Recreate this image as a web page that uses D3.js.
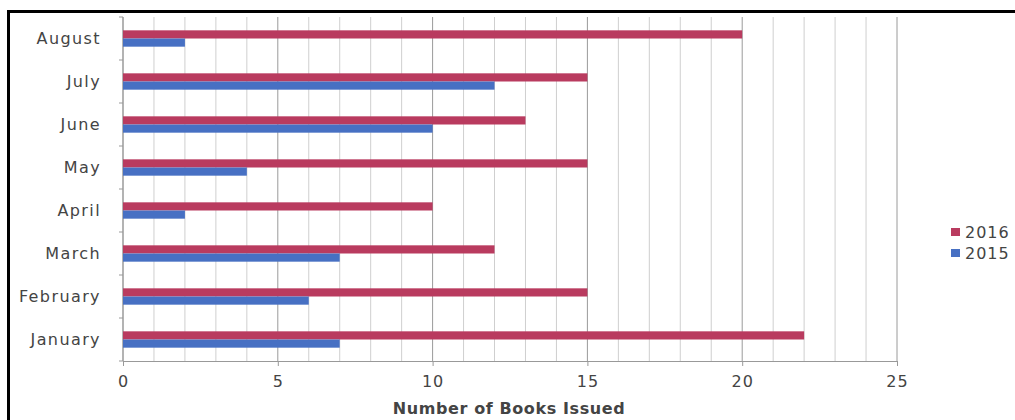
<!DOCTYPE html>
<html>
<head>
<meta charset="utf-8">
<script src="https://cdn.jsdelivr.net/npm/d3@7"></script>
<style>
  html, body { margin: 0; padding: 0; background: #fff; }
  svg { display: block; }
  text { font-family: "DejaVu Sans", sans-serif; fill: #444; }
</style>
</head>
<body>
<svg id="chart" width="1015" height="420"></svg>
<script>
// Books issued per month, two years
const months = ["January", "February", "March", "April", "May", "June", "July", "August"];
const series = ["2016", "2015"];
const issued2016 = [22, 15, 12, 10, 15, 13, 15, 20];
const issued2015 = [7, 6, 7, 2, 4, 10, 12, 2];
const xTicks = [0, 5, 10, 15, 20, 25];
const axisTitle = "Number of Books Issued";

const colors = { "2016": "#b93b5f", "2015": "#4770c3" };

const svg = d3.select("#chart");

// outer frame
svg.append("rect")
  .attr("x", 8.5).attr("y", 11.5)
  .attr("width", 1100).attr("height", 500)
  .attr("fill", "none").attr("stroke", "#000").attr("stroke-width", 3);

const plot = { left: 123, right: 897, top: 17, bottom: 361 };

const x = d3.scaleLinear().domain([0, 25]).range([plot.left, plot.right]);
const y = d3.scaleBand()
  .domain(months.slice().reverse())
  .range([plot.top, plot.bottom])
  .paddingInner(0.62).paddingOuter(0.31);
const ySub = d3.scaleBand().domain(series).range([0, y.bandwidth()]);

// vertical gridlines at every unit, darker on the labelled ones
const gridVals = d3.range(0, 26);
svg.append("g").selectAll("line")
  .data(gridVals).join("line")
  .attr("x1", d => x(d)).attr("x2", d => x(d))
  .attr("y1", plot.top).attr("y2", plot.bottom)
  .attr("stroke", d => d % 5 === 0 ? "#9a9a9a" : "#cfcfcf")
  .attr("stroke-width", 1);

// category axis line with separators
svg.append("line")
  .attr("x1", plot.left).attr("x2", plot.left)
  .attr("y1", plot.top).attr("y2", plot.bottom)
  .attr("stroke", "#999");
const sepY = d3.range(0, months.length + 1).map(i => plot.top + i * y.step());
svg.append("g").selectAll("line")
  .data(sepY).join("line")
  .attr("x1", plot.left - 4).attr("x2", plot.left)
  .attr("y1", d => d).attr("y2", d => d)
  .attr("stroke", "#999");

// bars
const rows = months.map((m, i) => ({ month: m, values: [
  { key: "2016", value: issued2016[i] },
  { key: "2015", value: issued2015[i] }
]}));

const groups = svg.append("g").selectAll("g")
  .data(rows).join("g")
  .attr("transform", d => `translate(0,${y(d.month)})`);

groups.selectAll("rect")
  .data(d => d.values).join("rect")
  .attr("x", x(0))
  .attr("y", d => ySub(d.key))
  .attr("width", d => x(d.value) - x(0))
  .attr("height", ySub.bandwidth())
  .attr("fill", d => colors[d.key]);

// bottom value axis
const xAxis = d3.axisBottom(x).tickValues(xTicks).tickSize(5).tickPadding(10).tickFormat(d3.format("d"));
const gx = svg.append("g")
  .attr("transform", `translate(0,${plot.bottom})`)
  .call(xAxis);
gx.select(".domain").attr("stroke", "#999");
gx.selectAll(".tick line").attr("stroke", "#999");
gx.selectAll(".tick text")
  .attr("font-size", 16).attr("fill", "#555")
  .attr("letter-spacing", 1)
  .style("font-family", "DejaVu Sans, sans-serif");

// month labels
svg.append("g").selectAll("text")
  .data(months).join("text")
  .attr("x", 101)
  .attr("y", d => y(d) + y.bandwidth() / 2)
  .attr("dy", "0.35em")
  .attr("text-anchor", "end")
  .attr("font-size", 16)
  .attr("letter-spacing", 1.4)
  .text(d => d);

// axis title
svg.append("text")
  .attr("x", 509).attr("y", 408)
  .attr("dy", "0.35em")
  .attr("text-anchor", "middle")
  .attr("font-size", 16)
  .attr("font-weight", "bold")
  .attr("letter-spacing", 0.6)
  .attr("fill", "#333")
  .text(axisTitle);

// legend
const legend = svg.append("g").selectAll("g")
  .data(series).join("g")
  .attr("transform", (d, i) => `translate(951,${232 + i * 21})`);
legend.append("rect")
  .attr("x", 0).attr("y", -4)
  .attr("width", 9).attr("height", 8)
  .attr("fill", d => colors[d]);
legend.append("text")
  .attr("x", 14).attr("y", 0).attr("dy", "0.35em")
  .attr("font-size", 16)
  .attr("letter-spacing", 1)
  .text(d => d);
</script>
</body>
</html>
